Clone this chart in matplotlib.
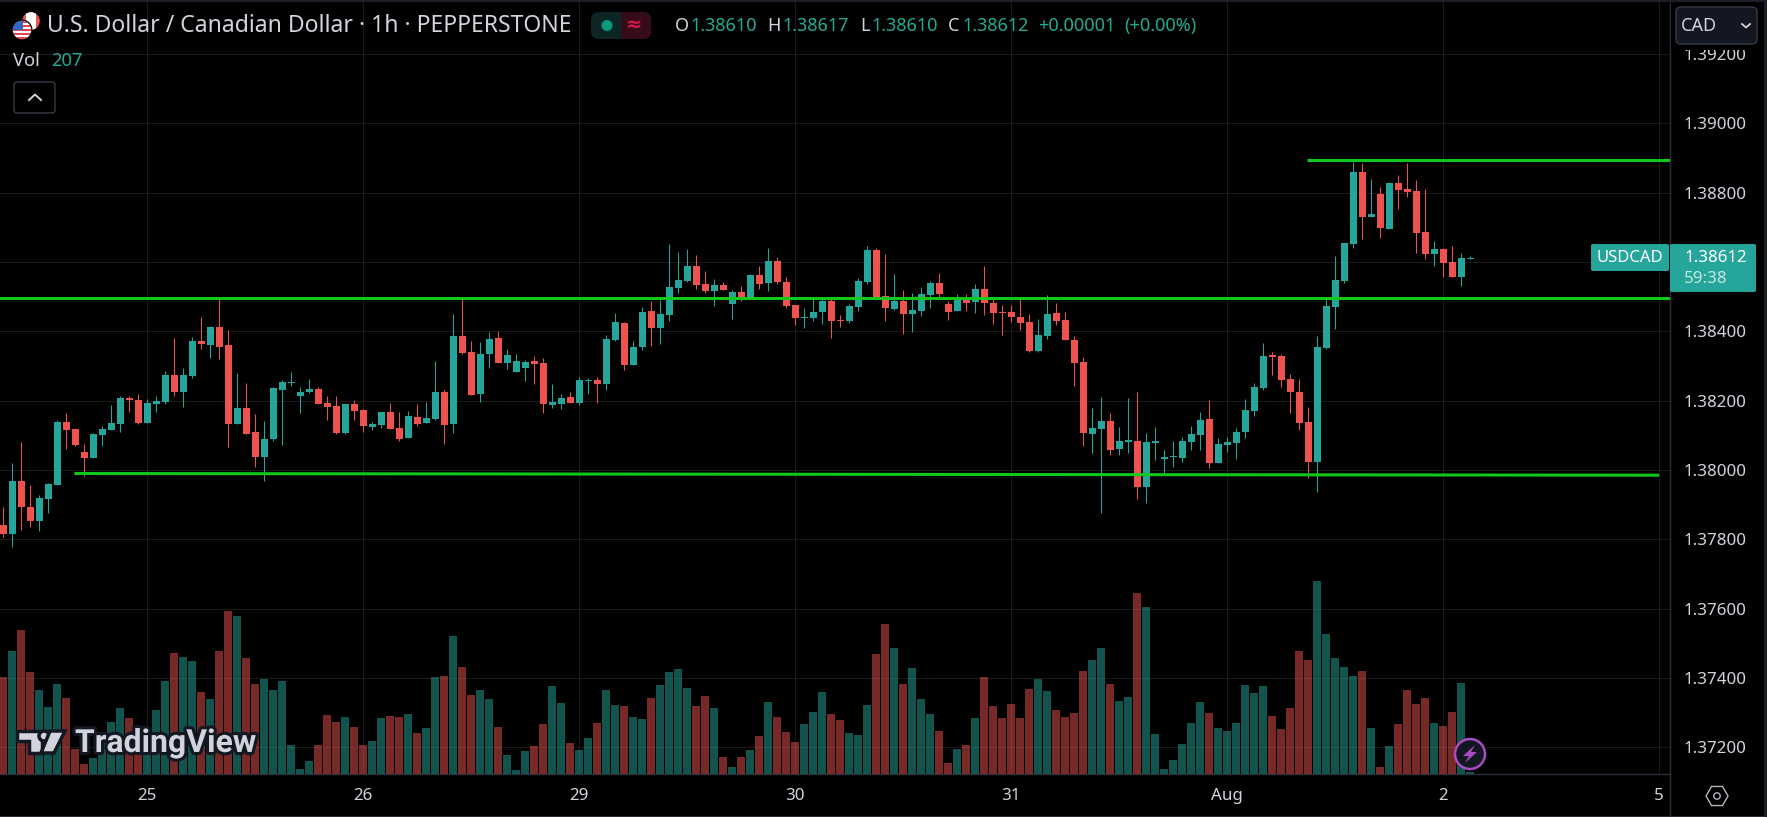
#!/usr/bin/env python3
import matplotlib
matplotlib.use('Agg')
import matplotlib.pyplot as plt
from matplotlib.patches import Circle, FancyBboxPatch, Polygon, Rectangle
import matplotlib.patheffects as pe
import numpy as np

W, H = 1767, 817

# candle values in points (1e-5) above 1.38000, one hourly bar per entry
opens = [-160, -186, -31, -106, -146, -83, -42, 139, 119, 53,
         35, 102, 116, 133, 208, 202, 136, 191, 197, 274,
         225, 272, 372, 361, 413, 361, 133, 179, 110, 38,
         90, 231, 251, 214, 225, 234, 194, 185, 107, 191,
         174, 125, 130, 168, 122, 93, 153, 136, 148, 225,
         133, 387, 341, 220, 335, 381, 309, 283, 295, 315,
         309, 188, 191, 211, 194, 257, 260, 249, 375, 424,
         303, 355, 459, 410, 447, 525, 545, 589, 537, 517,
         534, 479, 514, 493, 563, 540, 603, 542, 476, 439,
         439, 456, 488, 433, 430, 470, 542, 635, 502, 465,
         488, 450, 459, 505, 540, 479, 459, 499, 485, 522,
         482, 456, 456, 441, 427, 343, 387, 453, 433, 375,
         312, 104, 119, 142, 61, 81, 84, -48, 78, 32,
         38, 35, 81, 101, 148, 21, 73, 78, 110, 170,
         237, 332, 329, 263, 225, 139, 24, 352, 470, 545,
         651, 859, 729, 795, 695, 827, 810, 804, 686, 623,
         637, 600, 556, 610]
highs = [-107, 21, 81, -42, -71, -37, 145, 165, 119, 76,
         107, 127, 188, 214, 214, 220, 205, 214, 286, 381,
         295, 384, 441, 416, 500, 404, 280, 251, 162, 142,
         240, 260, 283, 240, 263, 240, 214, 214, 191, 202,
         176, 139, 168, 194, 168, 171, 191, 197, 315, 231,
         450, 500, 372, 369, 398, 401, 349, 335, 318, 329,
         324, 249, 220, 226, 269, 266, 269, 390, 453, 427,
         373, 470, 488, 491, 652, 629, 637, 620, 574, 551,
         542, 519, 531, 565, 589, 640, 614, 557, 476, 468,
         496, 496, 493, 447, 479, 554, 646, 640, 623, 565,
         519, 511, 528, 545, 568, 488, 508, 508, 537, 589,
         499, 476, 476, 499, 450, 435, 505, 482, 456, 387,
         326, 179, 211, 165, 124, 208, 225, 107, 124, 58,
         84, 96, 127, 168, 202, 93, 96, 122, 205, 251,
         366, 340, 335, 277, 263, 182, 387, 493, 617, 654,
         888, 885, 839, 816, 830, 850, 885, 836, 810, 660,
         640, 646, 626, 617]
lows = [-192, -221, -172, -163, -175, -123, -42, 61, 70, -16,
        35, 70, 116, 110, 168, 133, 136, 168, 191, 214,
        182, 266, 349, 323, 320, 67, 133, 104, 9, -31,
        84, 73, 243, 165, 223, 191, 145, 104, 104, 145,
        110, 116, 122, 119, 84, 93, 127, 136, 145, 76,
        107, 335, 217, 197, 295, 309, 292, 283, 257, 249,
        165, 180, 177, 194, 188, 220, 194, 231, 372, 289,
        303, 347, 358, 364, 430, 511, 542, 522, 511, 473,
        519, 436, 488, 493, 522, 516, 537, 468, 419, 410,
        430, 421, 381, 413, 424, 459, 537, 499, 430, 462,
        393, 398, 444, 468, 493, 433, 459, 459, 453, 447,
        421, 389, 427, 404, 340, 340, 378, 418, 375, 243,
        70, 50, -123, 44, 44, 50, -83, -94, 29, -14,
        9, 24, 58, 58, 6, 21, 52, 32, 93, 156,
        231, 274, 240, 165, 116, -22, -63, 349, 407, 539,
        640, 666, 729, 669, 695, 752, 787, 626, 608, 588,
        556, 556, 530, 610]
closes = [-184, -31, -106, -146, -80, -40, 139, 116, 73, 35,
          104, 119, 136, 208, 202, 136, 194, 199, 274, 225,
          274, 372, 364, 413, 355, 133, 179, 104, 38, 90,
          237, 254, 254, 225, 234, 191, 182, 107, 191, 171,
          127, 133, 168, 119, 90, 156, 133, 151, 225, 130,
          387, 338, 217, 335, 378, 309, 332, 315, 312, 306,
          191, 197, 208, 194, 260, 260, 249, 378, 427, 303,
          355, 456, 410, 450, 528, 548, 589, 534, 517, 534,
          519, 514, 493, 563, 537, 603, 542, 473, 439, 442,
          456, 488, 430, 430, 473, 545, 635, 499, 468, 488,
          450, 462, 508, 540, 508, 456, 499, 482, 522, 482,
          453, 453, 441, 424, 343, 389, 450, 430, 375, 309,
          107, 122, 142, 58, 84, 87, -48, 81, 84, 38,
          41, 84, 104, 145, 21, 75, 81, 110, 173, 240,
          329, 326, 260, 225, 136, 24, 355, 473, 548, 654,
          859, 729, 738, 698, 827, 807, 801, 683, 623, 637,
          597, 556, 611, 612]
volumes = [10040, 12730, 14900, 10560, 8690, 6930, 9320, 7870, 2590, 1040,
           1660, 3170, 5380, 6830, 5800, 3520, 4450, 6620, 9630, 12520,
           12110, 11700, 8490, 7760, 12730, 16870, 16350, 12010, 9320, 9830,
           8690, 9630, 3000, 520, 1350, 3000, 6110, 5380, 5900, 4860,
           3000, 3420, 5800, 6000, 5900, 6210, 4240, 4760, 10040, 10140,
           14280, 11070, 8180, 8690, 7760, 4860, 1970, 410, 2380, 2900,
           5180, 9110, 7350, 3210, 2480, 3730, 5280, 8690, 7140, 7040,
           5900, 5690, 7870, 9210, 10560, 10870, 8900, 7040, 8070, 6830,
           1760, 720, 1760, 2480, 3930, 7450, 5900, 4350, 3310, 5180,
           6420, 8490, 6210, 5590, 4240, 4040, 7140, 12420, 15530, 13040,
           9320, 10970, 7760, 6210, 4450, 1140, 2590, 3000, 5800, 10040,
           7040, 5800, 7250, 5800, 8800, 9830, 8590, 6620, 5900, 6310,
           10660, 11800, 13040, 9320, 7560, 7970, 18730, 17280, 4140, 520,
           1450, 3110, 5280, 7450, 6310, 4760, 4450, 5280, 9210, 8380,
           9110, 6000, 4660, 6830, 12730, 11800, 19980, 14490, 12010, 11070,
           10140, 10660, 4760, 720, 2900, 5180, 8690, 7250, 7870, 5280,
           4970, 6420, 9420, 207]

date_ticks = [16, 40, 64, 88, 112, 136, 160, 184]
date_labels = ['25', '26', '29', '30', '31', 'Aug', '2', '5']
price_ticks = [1.372, 1.374, 1.376, 1.378, 1.380, 1.382, 1.384, 1.386, 1.388, 1.390, 1.392]
# the 1.38600 label sits under the last price tag on the chart
price_labels = ['1.37200', '1.37400', '1.37600', '1.37800', '1.38000', '1.38200',
                '1.38400', '', '1.38800', '1.39000', '1.39200']

# drawn support / resistance lines: bar index pairs and prices
level_x = [[144.9, 190], [-5, 190], [7.9, 184]]
level_y = [[1.38894, 1.38894], [1.38495, 1.38495], [1.37990, 1.37985]]

TEAL = '#26a69a'
RED = '#ef5350'
GRID = '#1a1a1a'
BORDER = '#2a2e39'
TEXT = '#d1d4dc'
VALUE = '#22ab94'
LINE = '#10c81c'
PANEL = '#131722'

plt.rcParams['font.family'] = ['Noto Sans', 'DejaVu Sans']

fig = plt.figure(figsize=(W / 100, H / 100), dpi=100, facecolor='black')
rect = [0, (H - 774) / H, 1670 / W, 774 / H]

ax = fig.add_axes(rect, facecolor='black')
ax_vol = fig.add_axes(rect, sharex=ax)
ax_vol.patch.set_visible(False)
ax_vol.axis('off')

x = np.arange(len(opens))
o = 1.38 + np.array(opens) / 1e5
h = 1.38 + np.array(highs) / 1e5
l = 1.38 + np.array(lows) / 1e5
c = 1.38 + np.array(closes) / 1e5
up = c >= o
colors = [TEAL if u else RED for u in up]

# Grid and axes
ax.set_xlim(-0.367, 185.2)
ax.set_ylim(1.37123, 1.39356)
ax.set_xticks(date_ticks)
ax.set_xticklabels(date_labels)
ax.set_yticks(price_ticks)
ax.set_yticklabels(price_labels)
ax.yaxis.tick_right()
ax.tick_params(axis='both', length=0, colors=TEXT, labelsize=12.2)
ax.tick_params(axis='x', pad=10)
ax.tick_params(axis='y', pad=9.5)
ax.grid(True, color=GRID, linewidth=0.75)
ax.set_axisbelow(True)
for side in ['top', 'left']:
    ax.spines[side].set_visible(False)
for side in ['right', 'bottom']:
    ax.spines[side].set_color(BORDER)
    ax.spines[side].set_linewidth(1)

# Candles
ax.vlines(x, l, h, colors=colors, linewidth=0.75, zorder=3)
ax.bar(x, c - o, bottom=o, width=0.78, color=colors, linewidth=0, zorder=4)

# Drawn levels
for lx, ly in zip(level_x, level_y):
    ax.plot(lx, ly, color=LINE, linewidth=2.2, solid_capstyle='butt', zorder=5)

# Volume
ax_vol.bar(x, volumes, width=0.89, color=colors, alpha=0.5, linewidth=0)
ax_vol.set_ylim(0, 80100)

# Overlay in pixel coordinates for the TradingView interface parts
ui = fig.add_axes([0, 0, 1, 1], zorder=5)
ui.set_xlim(0, W)
ui.set_ylim(H, 0)
ui.axis('off')


def box(x0, y0, x1, y1, fc, ec='none', rad=3, lw=1):
    patch = FancyBboxPatch((x0 + rad, y0 + rad), x1 - x0 - 2 * rad, y1 - y0 - 2 * rad,
                           boxstyle='round,pad=%d,rounding_size=%d' % (rad, rad),
                           fc=fc, ec=ec, lw=lw)
    ui.add_patch(patch)
    return patch


def label(px, py, s, color=TEXT, size=13, ha='left', **kw):
    return ui.text(px, py, s, color=color, fontsize=size, ha=ha, va='center', **kw)


# window edge
ui.add_patch(Rectangle((0, 0), W, 1.5, fc='#1c1f26', ec='none'))
ui.add_patch(Rectangle((0, 815.5), W, 1.5, fc='#2a2e39', ec='none'))
ui.add_patch(Rectangle((1763.5, 0), 3.5, H, fc='#1c1f26', ec='none'))
ui.plot([1670, 1670], [774, 816], color=BORDER, lw=1)

# flags
ca = Circle((31, 21), 8.8, fc=RED, ec='none')
ui.add_patch(ca)
white = Rectangle((26, 11), 10, 20, fc='white', ec='none')
ui.add_patch(white)
white.set_clip_path(ca)
ui.add_patch(Circle((22, 30), 10.5, fc='black', ec='none'))
us = Circle((22, 30), 9.2, fc='white', ec='none')
ui.add_patch(us)
for sy in [21, 25, 29, 33, 37]:
    stripe = Rectangle((12, sy), 20, 2, fc='#e8424a', ec='none')
    ui.add_patch(stripe)
    stripe.set_clip_path(us)
canton = Rectangle((12, 20), 10.5, 9.5, fc='#2f66c8', ec='none')
ui.add_patch(canton)
canton.set_clip_path(us)

# legend lines
label(47, 25.5, 'U.S. Dollar / Canadian Dollar · 1h · PEPPERSTONE', size=16.5)
box(591, 12, 651, 39, '#0b2623', rad=8)
box(621, 12, 651, 39, '#360c1b', rad=8)
ui.add_patch(Rectangle((621, 12), 10, 27, fc='#360c1b', ec='none'))
ui.add_patch(Circle((607, 25.5), 5.5, fc='#089981', ec='none'))
label(634.5, 25, '≈', color='#e0144c', size=14, ha='center', fontweight='bold')

for px, s in [(675, 'O'), (767, 'H'), (860, 'L'), (948, 'C')]:
    label(px, 25.5, s)
for px, s in [(690, '1.38610'), (782, '1.38617'), (871, '1.38610'), (962, '1.38612'),
              (1038, '+0.00001'), (1124, '(+0.00%)')]:
    label(px, 25.5, s, color=VALUE)
label(13, 61, 'Vol', size=13.2)
label(51, 61, '207', color=VALUE, size=13.2)

# collapse button
box(14, 82, 55, 113, 'black', ec='#363a45', rad=3)
ui.plot([29, 35, 41], [100, 94.5, 100], color=TEXT, lw=1.4)

# currency button, with the strip under it that cuts the top price label
ui.add_patch(Rectangle((1671, 2), 92, 48, fc='black', ec='none'))
box(1676, 7, 1757, 44, PANEL, ec='#363a45', rad=5)
label(1681, 25.5, 'CAD', size=13)
ui.plot([1742, 1746, 1750], [24, 27.5, 24], color=TEXT, lw=1.3)

# last price tags
box(1591, 244, 1669, 271, TEAL, rad=2)
label(1630, 257.5, 'USDCAD', color='white', size=12, ha='center')
box(1670, 244, 1756, 292, TEAL, rad=2)
label(1684, 257.5, '1.38612', color='white', size=12.2)
label(1684, 279, '59:38', color='#c4e8e4', size=12.2)

# TradingView logo
stroke = [pe.withStroke(linewidth=4.5, foreground=PANEL)]
logo_parts = [
    Polygon([(17, 731), (42, 731), (42, 753), (29, 753), (29, 741), (17, 741)], closed=True),
    Circle((44, 736), 5),
    Polygon([(50, 731), (65, 731), (54, 753), (41, 753)], closed=True),
]
for part in logo_parts:
    part.set(fc=TEXT, ec=PANEL, lw=2.5, zorder=6)
    ui.add_patch(part)
label(75, 743, 'TradingView', size=23, family='Roboto', fontweight='bold', path_effects=stroke, zorder=6)

# lightning button
ui.add_patch(Circle((1470, 754), 15, fc=PANEL, ec='#a84cc4', lw=1.8, zorder=6))
ui.add_patch(Polygon([(1475, 745), (1463, 756), (1469, 756), (1465, 763), (1477, 752), (1471, 752)],
                     closed=True, fc='#a84cc4', ec='none', zorder=7))

# settings hexagon
ang = np.radians([0, 60, 120, 180, 240, 300])
ui.add_patch(Polygon(np.c_[1717 + 11 * np.cos(ang), 796 + 11 * np.sin(ang)], closed=True,
                     fc='none', ec='#b2b5be', lw=1))
ui.add_patch(Circle((1717, 796), 3.2, fc='none', ec='#b2b5be', lw=1))

fig.savefig('out.png', dpi=100, facecolor='black')
